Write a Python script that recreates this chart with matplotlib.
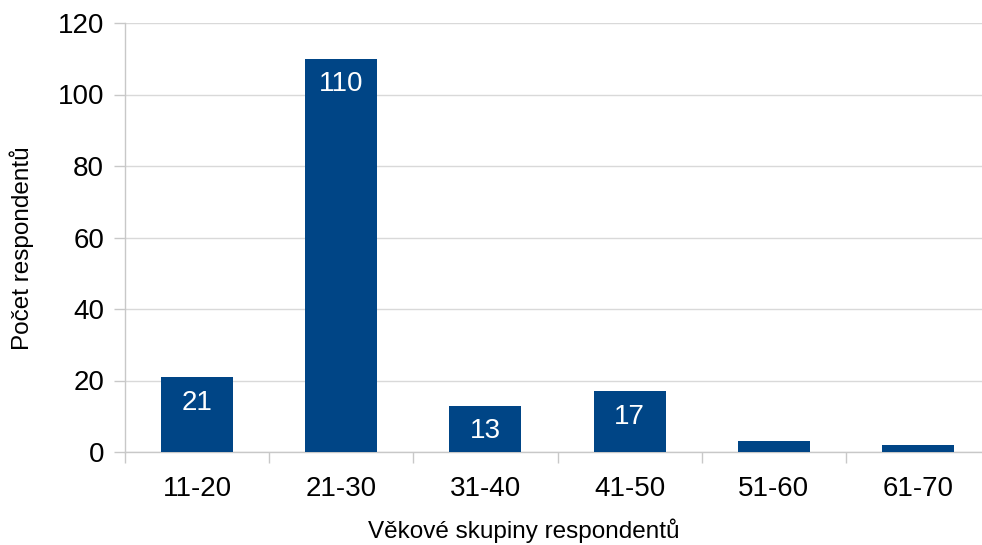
import matplotlib
matplotlib.use("Agg")
import matplotlib.pyplot as plt

plt.rcParams['font.family'] = ['Liberation Sans', 'DejaVu Sans']

categories = ["11-20", "21-30", "31-40", "41-50", "51-60", "61-70"]
counts = [21, 110, 13, 17, 3, 2]
labelled = [True, True, True, True, False, False]

bar_color = "#004586"
grid_color = "#d9d9d9"
axis_color = "#c8c8c8"

fig = plt.figure(figsize=(9.82, 5.45), dpi=100)
ax = fig.add_axes([125 / 982, 1 - 452 / 545, 865 / 982, 429 / 545])

x = list(range(len(categories)))
bars = ax.bar(x, counts, width=0.5, color=bar_color, zorder=3)

for rect, val, show in zip(bars, counts, labelled):
    if show:
        ax.annotate(str(val),
                    xy=(rect.get_x() + rect.get_width() / 2, rect.get_height()),
                    xytext=(0, -18.5), textcoords="offset points",
                    ha="center", va="center", color="white", fontsize=20)

ax.set_xlim(-0.5, len(categories) - 0.5)
ax.set_ylim(0, 120)
ax.set_yticks(range(0, 121, 20))
ax.set_xticks(x)
ax.set_xticklabels(categories)
# Separator ticks between categories
ax.set_xticks([i - 0.5 for i in range(len(categories) + 1)], minor=True)
ax.tick_params(axis="x", which="major", length=0, pad=17, labelsize=20)
ax.tick_params(axis="x", which="minor", length=8, color=axis_color, width=1)
ax.tick_params(axis="y", length=8, color=axis_color, width=1, pad=7, labelsize=20)

ax.grid(axis="y", color=grid_color, linewidth=1, zorder=0)
for side in ("top", "right"):
    ax.spines[side].set_visible(False)
for side in ("left", "bottom"):
    ax.spines[side].set_color(axis_color)
    ax.spines[side].set_linewidth(1)

ax.set_xlabel("Věkové skupiny respondentů", fontsize=17.5, labelpad=11)
ax.set_ylabel("Počet respondentů", fontsize=17.5, labelpad=17)
ax.xaxis.set_label_coords(0.461, -0.155)
ax.yaxis.label.set_y(0.476)

fig.savefig("out.png", dpi=100)
